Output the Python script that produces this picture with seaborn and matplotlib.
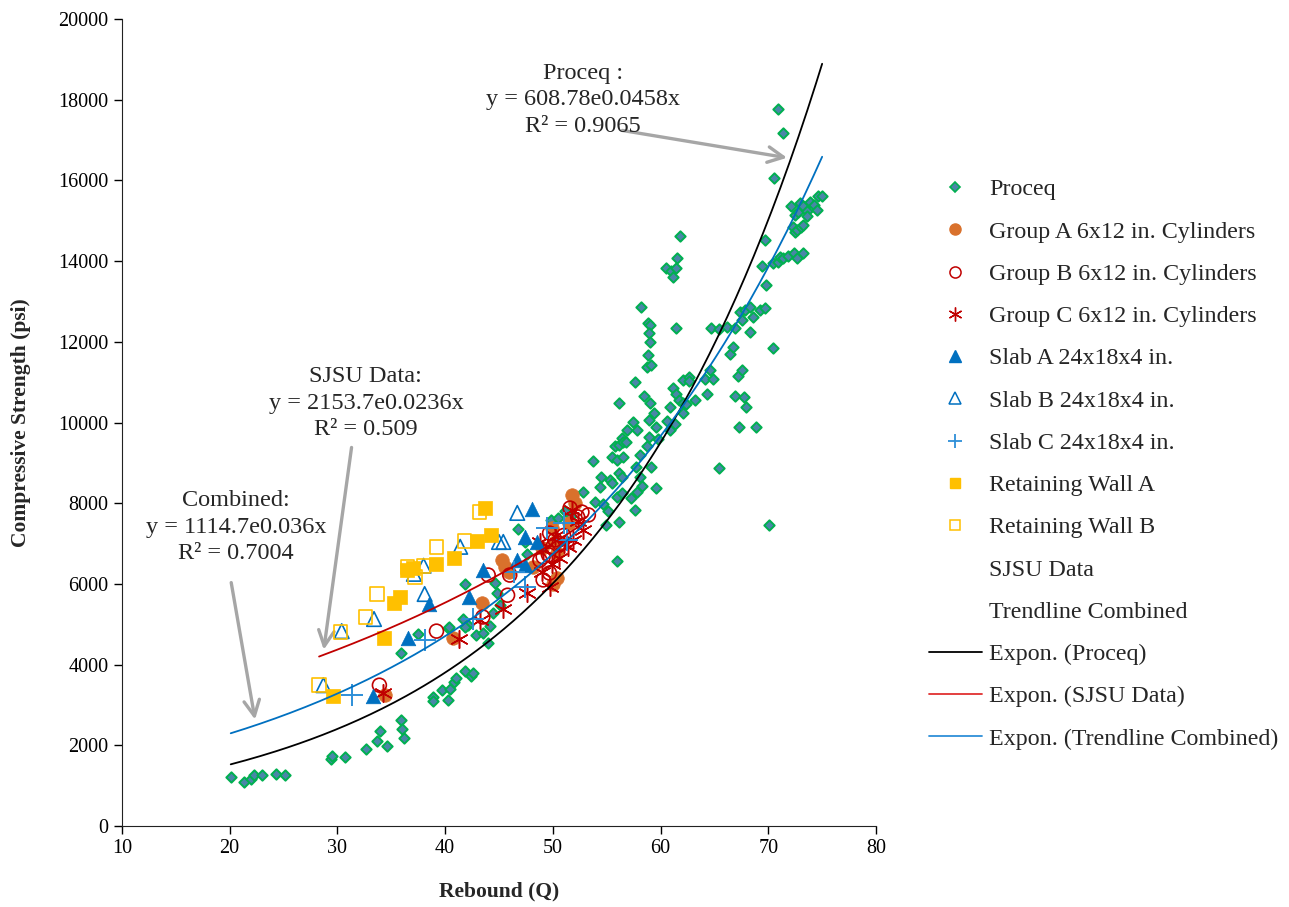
import numpy as np
import matplotlib
matplotlib.use("Agg")
import matplotlib.pyplot as plt
from matplotlib.lines import Line2D
import seaborn as sns

# ---- data ----
proceq_rebound = [
    20.1, 21.3, 22.0, 22.3, 23.0, 24.3, 25.1, 29.4, 29.5, 30.7,
    32.7, 33.7, 34.0, 34.6, 35.9, 36.0, 36.2, 35.9, 37.5, 38.9,
    38.9, 39.7, 40.3, 40.5, 40.8, 41.0, 41.8, 42.4, 42.6, 40.3,
    41.7, 42.9, 41.8, 42.1, 41.8, 43.5, 44.2, 44.0, 40.4, 44.6,
    44.8, 45.1, 44.4, 46.8, 47.4, 47.6, 49.8, 50.5, 51.1, 51.7,
    52.8, 53.7, 53.9, 54.5, 54.4, 54.7, 54.9, 55.1, 55.3, 55.5,
    55.5, 55.8, 56.1, 56.0, 56.0, 56.0, 56.1, 56.1, 56.1, 56.4,
    56.4, 56.4, 56.5, 56.5, 56.8, 56.9, 57.3, 57.4, 57.6, 57.6,
    57.7, 57.8, 57.8, 58.1, 58.1, 58.2, 58.3, 58.5, 58.7, 59.1,
    58.7, 58.9, 58.8, 59.0, 58.9, 59.0, 58.8, 59.0, 58.9, 59.1,
    59.4, 59.6, 59.6, 59.8, 60.6, 60.9, 60.9, 61.2, 61.3, 61.4,
    61.4, 61.7, 62.1, 62.1, 62.1, 62.4, 62.6, 62.6, 60.5, 61.0,
    61.4, 61.2, 61.5, 61.8, 63.2, 64.1, 64.3, 64.6, 64.7, 64.9,
    65.4, 65.4, 66.2, 66.4, 66.7, 66.9, 66.9, 67.2, 67.3, 67.4,
    67.6, 67.6, 67.7, 67.8, 67.9, 68.3, 68.3, 68.6, 68.9, 69.2,
    69.4, 69.7, 69.7, 69.8, 70.1, 70.4, 70.4, 70.5, 70.9, 70.9,
    71.1, 71.4, 71.4, 71.8, 72.1, 72.3, 72.4, 72.5, 72.5, 72.7,
    72.7, 72.8, 72.9, 73.0, 73.2, 73.2, 73.2, 73.6, 73.6, 73.9,
    74.2, 74.5, 74.6, 75.0,
]
proceq_strength = [
    1210, 1090, 1170, 1260, 1260, 1290, 1260, 1660, 1740, 1710,
    1910, 2110, 2350, 1980, 2630, 2400, 2180, 4290, 4760, 3200,
    3100, 3370, 3120, 3400, 3570, 3670, 3840, 3720, 3790, 4910,
    5130, 4730, 6000, 4980, 4930, 4780, 4960, 4540, 4930, 6020,
    5770, 5480, 5280, 7360, 7040, 6740, 7580, 7630, 7810, 7680,
    8280, 9050, 8030, 8650, 8400, 7980, 7460, 7810, 8580, 8500,
    9150, 9420, 9440, 9070, 8150, 6570, 8750, 7530, 10480, 9620,
    8650, 8250, 9520, 9150, 9520, 9810, 8130, 10010, 11000, 7830,
    8900, 9810, 8280, 9190, 8650, 12860, 8430, 10660, 11370, 11430,
    9420, 9640, 12470, 12420, 12220, 12000, 11670, 10480, 10060, 8900,
    10240, 9890, 8380, 9590, 10040, 10380, 9810, 10860, 9960, 10710,
    12340, 10560, 11050, 10480, 10240, 10460, 11130, 11030, 13830, 13760,
    13830, 13610, 14080, 14620, 10560, 11080, 10710, 11300, 12340, 11080,
    12320, 8870, 12370, 11700, 11870, 12340, 10660, 11150, 9890, 12740,
    12540, 11300, 10630, 12790, 10380, 12860, 12240, 12610, 9890, 12790,
    13880, 14520, 12840, 13410, 7460, 11850, 13950, 16060, 17770, 13980,
    14100, 17180, 14080, 14130, 15370, 14850, 14200, 15140, 14720, 14770,
    14080, 15220, 15440, 14850, 15370, 14890, 14200, 15240, 15120, 15470,
    15390, 15270, 15610, 15610,
]

group_a_x = [34.4, 40.7, 43.4, 45.3, 45.6, 48.2, 49.0, 49.9, 50.2, 50.4, 50.4, 50.0, 51.8, 52.1, 51.5, 45.9]
group_a_y = [3250, 4660, 5530, 6590, 6420, 6420, 6890, 7380, 7040, 6770, 6150, 6000, 8200, 8000, 7500, 6300]

group_b_x = [33.9, 39.2, 43.5, 44.0, 45.8, 46.0, 48.8, 49.1, 49.6, 49.7, 49.1, 50.0, 50.2, 49.7, 51.6, 52.3, 52.7, 53.3, 50.6, 51.0]
group_b_y = [3490, 4830, 5180, 6220, 5720, 6220, 6590, 6670, 6720, 6270, 6100, 6920, 7090, 7260, 7880, 7660, 7780, 7710, 7000, 7200]

group_c_x = [34.2, 41.3, 43.2, 45.4, 47.6, 49.7, 49.0, 49.1, 48.8, 51.4, 51.9, 52.8, 51.8, 50.6, 49.9, 50.2, 51.0, 52.3]
group_c_y = [3300, 4630, 5100, 5380, 5770, 5920, 6300, 6840, 7040, 6920, 7090, 7340, 7830, 6650, 6500, 7200, 7000, 7560]

slab_a_x = [33.3, 36.6, 38.5, 42.2, 43.5, 46.7, 47.4, 47.4, 48.5, 48.1]
slab_a_y = [3220, 4660, 5500, 5680, 6340, 6590, 6470, 7160, 7040, 7860]

slab_b_x = [28.7, 30.4, 33.4, 37.1, 38.0, 38.1, 41.4, 45.0, 45.4, 46.7]
slab_b_y = [3490, 4830, 5130, 6250, 6450, 5750, 6920, 7040, 7040, 7760]

slab_c_x = [31.4, 38.1, 42.6, 47.4, 49.5, 51.0, 51.3, 46.4]
slab_c_y = [3250, 4620, 5130, 5920, 7380, 7510, 7090, 6290]

wall_a_x = [29.6, 34.3, 35.3, 35.8, 36.5, 37.0, 39.2, 40.8, 43.0, 44.3, 43.7]
wall_a_y = [3220, 4660, 5530, 5680, 6340, 6390, 6490, 6640, 7060, 7210, 7880]

wall_b_x = [28.3, 30.3, 32.6, 33.7, 36.5, 37.2, 38.0, 39.2, 41.8, 43.2]
wall_b_y = [3490, 4810, 5180, 5750, 6420, 6170, 6450, 6920, 7060, 7780]

# exponential trendline coefficients as printed on the chart
proceq_fit = (608.78, 0.0458)
sjsu_fit = (2153.7, 0.0236)
combined_fit = (1114.7, 0.036)

# ---- style ----
sns.set_style("ticks")
plt.rcParams["font.family"] = ["Liberation Serif", "DejaVu Serif"]

fig = plt.figure(figsize=(12.89, 9.07), dpi=100)
ax = fig.add_axes([0.0946, 0.0893, 0.5850, 0.8897])

GREEN = "#00b050"
DIAMOND_FILL = "#4a86a8"
ORANGE = "#d9712c"
RED = "#c00000"
BLUE = "#0070c0"
LBLUE = "#2e8fd8"
YELLOW = "#ffc000"

sns.scatterplot(x=proceq_rebound, y=proceq_strength, marker="D", s=28,
                color=DIAMOND_FILL, edgecolor=GREEN, linewidth=1.4, ax=ax, zorder=3)
sns.scatterplot(x=group_a_x, y=group_a_y, marker="o", s=95, color=ORANGE,
                edgecolor=ORANGE, linewidth=0.5, ax=ax, zorder=4)
sns.scatterplot(x=group_b_x, y=group_b_y, marker="o", s=100, facecolor="none",
                edgecolor=RED, linewidth=1.2, ax=ax, zorder=4)
sns.scatterplot(x=group_c_x, y=group_c_y, marker=(6, 2, 0), s=160, color=RED,
                edgecolor=RED, linewidth=1.1, ax=ax, zorder=4)
sns.scatterplot(x=slab_a_x, y=slab_a_y, marker="^", s=110, color=BLUE,
                edgecolor=BLUE, linewidth=0.5, ax=ax, zorder=4)
sns.scatterplot(x=slab_b_x, y=slab_b_y, marker="^", s=110, facecolor="none",
                edgecolor=BLUE, linewidth=1.2, ax=ax, zorder=4)
sns.scatterplot(x=slab_c_x, y=slab_c_y, marker="+", s=240, color=LBLUE,
                linewidth=1.4, ax=ax, zorder=4)
sns.scatterplot(x=wall_a_x, y=wall_a_y, marker="s", s=95, color=YELLOW,
                edgecolor=YELLOW, linewidth=0.5, ax=ax, zorder=4)
sns.scatterplot(x=wall_b_x, y=wall_b_y, marker="s", s=95, facecolor="none",
                edgecolor=YELLOW, linewidth=1.2, ax=ax, zorder=4)

# trendlines over the range of the data they were fitted to
sjsu_x = group_a_x + group_b_x + group_c_x + slab_a_x + slab_b_x + slab_c_x + wall_a_x + wall_b_x
all_x = sjsu_x + proceq_rebound
for fit, xs, col in [(proceq_fit, proceq_rebound, "black"),
                     (sjsu_fit, sjsu_x, RED),
                     (combined_fit, all_x, BLUE)]:
    xx = np.linspace(min(xs), max(xs), 200)
    sns.lineplot(x=xx, y=fit[0] * np.exp(fit[1] * xx), color=col, lw=1.3,
                 ax=ax, zorder=5)

ax.set_xlim(10, 80)
ax.set_ylim(0, 20000)
ax.set_xticks(range(10, 81, 10))
ax.set_yticks(range(0, 20001, 2000))
ax.tick_params(labelsize=14.5, length=6, width=1, colors="black")
for s in ["top", "right"]:
    ax.spines[s].set_visible(False)
for s in ["left", "bottom"]:
    ax.spines[s].set_color("#222222")
ax.set_xlabel("Rebound (Q)", fontsize=15.5, fontweight="bold", labelpad=17)
ax.set_ylabel("Compressive Strength (psi)", fontsize=15.5, fontweight="bold", labelpad=20)

# annotations
arrow = dict(arrowstyle="->", color="#a6a6a6", lw=2.4, mutation_scale=28)
txt = dict(ha="center", va="center", fontsize=17.5, linespacing=1.35)
ax.annotate("", xy=(72.0, 16550), xytext=(56.2, 17250), arrowprops=arrow)
ax.text(52.8, 18000, "Proceq :\ny = 608.78e0.0458x\nR² = 0.9065", **txt)
ax.annotate("", xy=(28.7, 4300), xytext=(31.35, 9450), arrowprops=arrow)
ax.text(32.65, 10480, "SJSU Data:\ny = 2153.7e0.0236x\nR² = 0.509", **txt)
ax.annotate("", xy=(22.4, 2570), xytext=(20.1, 6100), arrowprops=arrow)
ax.text(20.6, 7410, "Combined:\ny = 1114.7e0.036x\nR² = 0.7004", **txt)

# legend
ms = 7
handles = [
    Line2D([], [], ls="none", marker="D", ms=5, mfc=DIAMOND_FILL, mec=GREEN, mew=1.2),
    Line2D([], [], ls="none", marker="o", ms=ms + 1, mfc=ORANGE, mec=ORANGE),
    Line2D([], [], ls="none", marker="o", ms=ms + 1, mfc="none", mec=RED, mew=1.1),
    Line2D([], [], ls="none", marker=(6, 2, 0), ms=ms + 3, color=RED, mew=1.0),
    Line2D([], [], ls="none", marker="^", ms=ms + 1, mfc=BLUE, mec=BLUE),
    Line2D([], [], ls="none", marker="^", ms=ms + 1, mfc="none", mec=BLUE, mew=1.1),
    Line2D([], [], ls="none", marker="+", ms=ms + 3, color=LBLUE, mew=1.3),
    Line2D([], [], ls="none", marker="s", ms=ms, mfc=YELLOW, mec=YELLOW),
    Line2D([], [], ls="none", marker="s", ms=ms, mfc="none", mec=YELLOW, mew=1.1),
    Line2D([], [], ls="none"),
    Line2D([], [], ls="none"),
    Line2D([], [], color="black", lw=1.3),
    Line2D([], [], color="#e03030", lw=1.3),
    Line2D([], [], color=LBLUE, lw=1.3),
]
labels = ["Proceq", "Group A 6x12 in. Cylinders", "Group B 6x12 in. Cylinders",
          "Group C 6x12 in. Cylinders", "Slab A 24x18x4 in.", "Slab B 24x18x4 in.",
          "Slab C 24x18x4 in.", "Retaining Wall A", "Retaining Wall B", "SJSU Data",
          "Trendline Combined", "Expon. (Proceq)", "Expon. (SJSU Data)",
          "Expon. (Trendline Combined)"]
fig.legend(handles, labels, loc="upper left", bbox_to_anchor=(0.7205, 0.803),
           frameon=False, fontsize=17.3, handlelength=2.2, handletextpad=0.3,
           labelspacing=0.85, borderpad=0, borderaxespad=0)

fig.savefig("out.png", dpi=100)
